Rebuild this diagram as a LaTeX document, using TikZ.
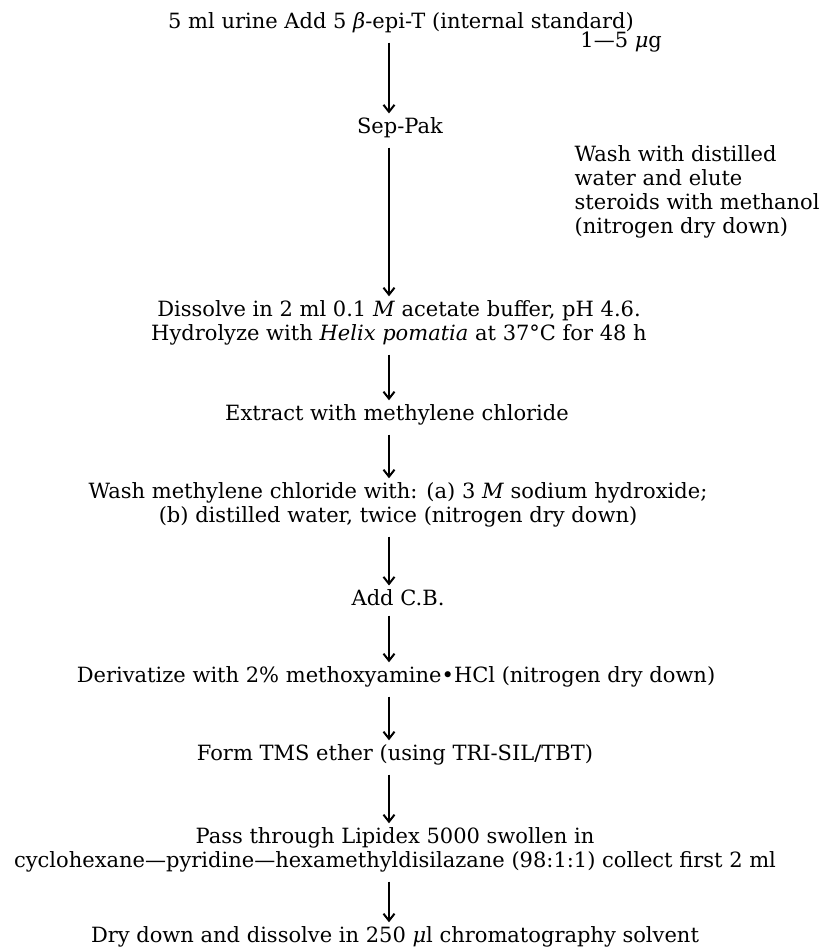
\documentclass[tikz,border=0pt]{standalone}
\usepackage{fontspec}
\setmainfont{DejaVu Serif}
\usepackage{tikz}
\usetikzlibrary{arrows.meta}

\begin{document}
\begin{tikzpicture}[x=0.5pt, y=-0.5pt,
    every node/.style={font=\fontsize{10.5}{12}\selectfont, inner sep=1pt, align=center},
    flow/.style={-{Straight Barb[length=3.5pt,width=5.5pt,line width=1pt]}, line width=0.7pt, shorten <=3.5pt, shorten >=1pt}]
\useasboundingbox (0,0) rectangle (823,948);
\coordinate (axis) at (389,0);
% --- steps (top to bottom) ---
\node (urine) at (401,23) {5 ml urine Add 5 {\itshape β}-epi-T (internal standard)};
\node[anchor=west] (dose) at (578,42) {1—5 {\itshape μ}g};
\node (seppak) at (400,128) {Sep-Pak};
\node[anchor=east, align=left] (elute) at (822,192) {Wash with distilled\\water and elute\\steroids with methanol\\(nitrogen dry down)};
\node (dissolve) at (399,323) {Dissolve in 2 ml 0.1 \textit{M} acetate buffer, pH 4.6.\\Hydrolyze with \textit{Helix pomatia} at 37°C for 48 h};
\node (extract) at (397,415) {Extract with methylene chloride};
\node (washmc) at (398,505) {Wash methylene chloride with: (a) 3 \textit{M} sodium hydroxide;\\(b) distilled water, twice (nitrogen dry down)};
\node (addcb) at (398,598) {Add C.B.};
\node (deriv) at (396,677) {Derivatize with 2\% methoxyamine•HCl (nitrogen dry down)};
\node (tms) at (395,755) {Form TMS ether (using TRI-SIL/TBT)};
\node (lipidex) at (395,850) {Pass through Lipidex 5000 swollen in\\cyclohexane—pyridine—hexamethyldisilazane (98:1:1) collect first 2 ml};
\node (drydown) at (395,937) {Dry down and dissolve in 250 {\itshape μ}l chromatography solvent};
% --- arrows ---
\foreach \a/\b in {urine/seppak, seppak/dissolve, dissolve/extract, extract/washmc,
    washmc/addcb, addcb/deriv, deriv/tms, tms/lipidex, lipidex/drydown}
    \draw[flow] (\a.south -| axis) -- (\b.north -| axis);
\end{tikzpicture}
\end{document}
